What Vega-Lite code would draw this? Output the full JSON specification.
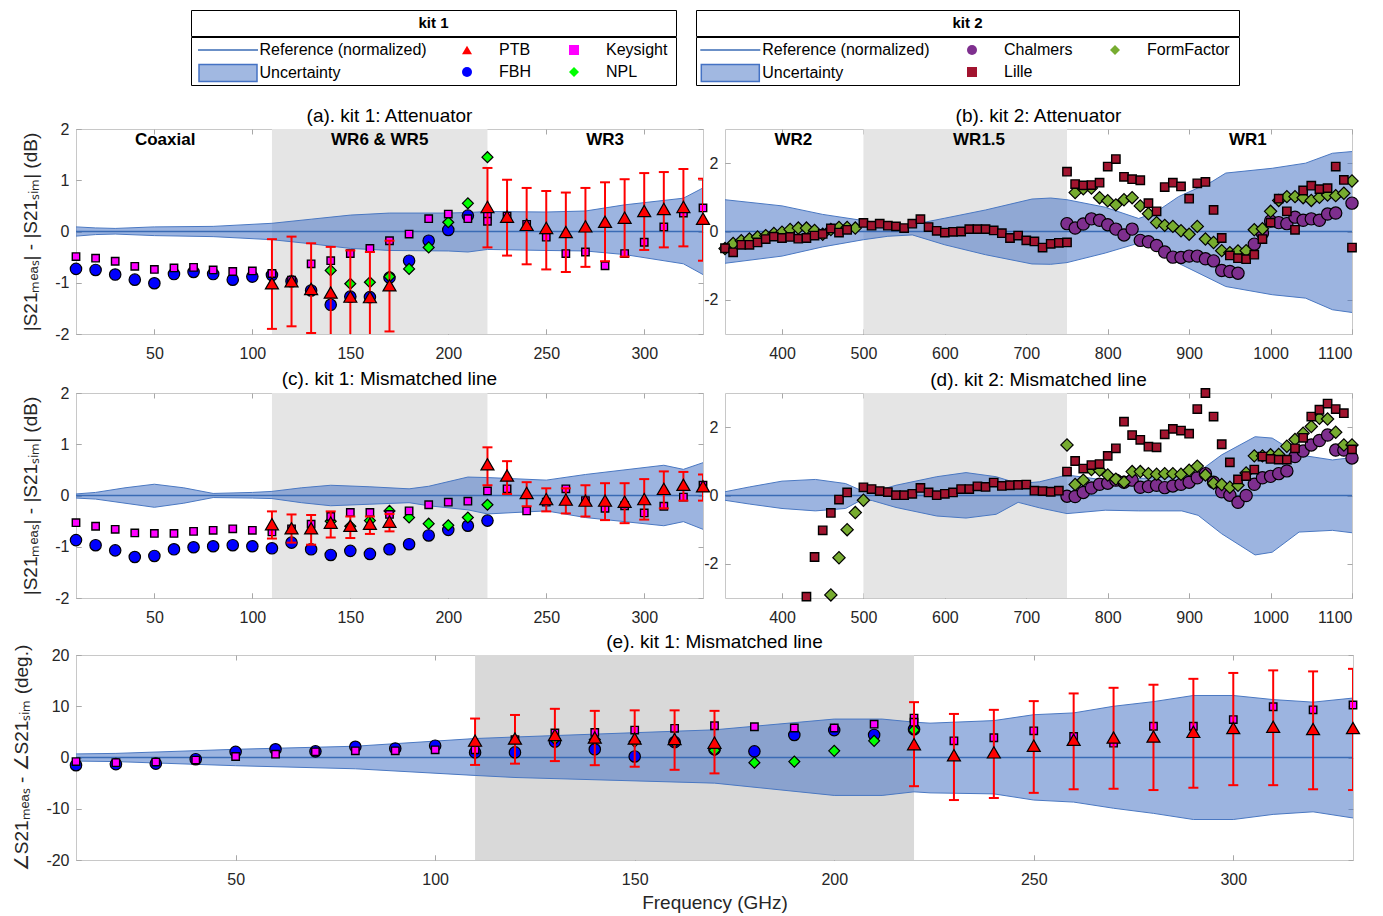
{
"$schema": "https://vega.github.io/schema/vega-lite/v6.json",
"background": "white",
"padding": {"left": 12, "top": 9, "right": 5, "bottom": 5},
"config": {
 "font": "Liberation Sans",
 "view": {"stroke": "#c8c8c8", "strokeWidth": 1},
 "axis": {"domain": false, "grid": true, "gridColor": "#a8a8a8", "gridWidth": 1, "tickSize": -5, "tickColor": "#a8a8a8", "tickWidth": 1, "labelFontSize": 16, "labelColor": "#262626", "titleFontSize": 19, "titleFontWeight": "normal", "titleColor": "#262626", "labelFont": "Liberation Sans", "titleFont": "Liberation Sans"},
 "axisX": {"labelPadding": 16, "titlePadding": 6, "gridDash": [5, 195, 5, 10]},
 "axisY": {"labelPadding": 12, "titlePadding": 14, "gridDash": [5, 617, 5, 10]},
 "title": {"fontSize": 19, "fontWeight": "normal", "font": "Liberation Sans", "color": "#000000", "offset": 6},
 "legend": {"labelFont": "Liberation Sans", "labelLimit": 400}
},
"datasets": {
 "ba": [{"f":10,"lo":-0.09,"hi":0.09},{"f":20,"lo":-0.06,"hi":0.07},{"f":30,"lo":-0.05,"hi":0.06},{"f":50,"lo":-0.08,"hi":0.09},{"f":80,"lo":-0.10,"hi":0.10},{"f":110,"lo":-0.16,"hi":0.16},{"f":130,"lo":-0.24,"hi":0.24},{"f":150,"lo":-0.33,"hi":0.32},{"f":170,"lo":-0.37,"hi":0.36},{"f":200,"lo":-0.38,"hi":0.36},{"f":210,"lo":-0.40,"hi":0.37},{"f":220,"lo":-0.35,"hi":0.39},{"f":250,"lo":-0.37,"hi":0.38},{"f":270,"lo":-0.38,"hi":0.40},{"f":290,"lo":-0.45,"hi":0.52},{"f":320,"lo":-0.63,"hi":0.65},{"f":330,"lo":-0.84,"hi":0.85}],
 "bc": [{"f":10,"lo":-0.05,"hi":0.03},{"f":20,"lo":-0.07,"hi":0.06},{"f":35,"lo":-0.15,"hi":0.15},{"f":50,"lo":-0.23,"hi":0.22},{"f":65,"lo":-0.15,"hi":0.15},{"f":80,"lo":-0.04,"hi":0.04},{"f":100,"lo":-0.05,"hi":0.06},{"f":110,"lo":-0.06,"hi":0.08},{"f":125,"lo":-0.14,"hi":0.15},{"f":140,"lo":-0.20,"hi":0.20},{"f":160,"lo":-0.17,"hi":0.17},{"f":180,"lo":-0.14,"hi":0.13},{"f":190,"lo":-0.20,"hi":0.18},{"f":210,"lo":-0.28,"hi":0.36},{"f":220,"lo":-0.36,"hi":0.35},{"f":250,"lo":-0.30,"hi":0.30},{"f":270,"lo":-0.43,"hi":0.41},{"f":310,"lo":-0.59,"hi":0.59},{"f":320,"lo":-0.51,"hi":0.51},{"f":330,"lo":-0.66,"hi":0.64}],
 "bb": [{"f":330,"lo":-0.93,"hi":0.93},{"f":400,"lo":-0.72,"hi":0.75},{"f":450,"lo":-0.45,"hi":0.50},{"f":500,"lo":-0.24,"hi":0.32},{"f":530,"lo":-0.14,"hi":0.22},{"f":560,"lo":-0.10,"hi":0.20},{"f":600,"lo":-0.39,"hi":0.39},{"f":650,"lo":-0.68,"hi":0.63},{"f":707,"lo":-0.95,"hi":0.95},{"f":730,"lo":-0.96,"hi":0.98},{"f":750,"lo":-0.91,"hi":0.93},{"f":797,"lo":-0.63,"hi":0.71},{"f":838,"lo":-0.34,"hi":0.38},{"f":858,"lo":-0.48,"hi":0.55},{"f":887,"lo":-0.93,"hi":1.02},{"f":928,"lo":-1.41,"hi":1.46},{"f":945,"lo":-1.61,"hi":1.71},{"f":1002,"lo":-1.85,"hi":1.85},{"f":1043,"lo":-1.95,"hi":2.00},{"f":1076,"lo":-2.29,"hi":2.29},{"f":1100,"lo":-2.37,"hi":2.34}],
 "bd": [{"f":330,"lo":-0.14,"hi":0.11},{"f":360,"lo":-0.25,"hi":0.25},{"f":400,"lo":-0.38,"hi":0.42},{"f":441,"lo":-0.45,"hi":0.47},{"f":478,"lo":-0.38,"hi":0.35},{"f":500,"lo":-0.10,"hi":0.12},{"f":511,"lo":-0.15,"hi":0.10},{"f":540,"lo":-0.35,"hi":0.30},{"f":590,"lo":-0.60,"hi":0.55},{"f":626,"lo":-0.66,"hi":0.67},{"f":663,"lo":-0.55,"hi":0.55},{"f":690,"lo":-0.20,"hi":0.35},{"f":716,"lo":-0.36,"hi":0.40},{"f":750,"lo":-0.53,"hi":0.60},{"f":797,"lo":-0.43,"hi":0.45},{"f":838,"lo":-0.45,"hi":0.50},{"f":891,"lo":-0.45,"hi":0.55},{"f":911,"lo":-0.58,"hi":0.68},{"f":940,"lo":-1.12,"hi":1.19},{"f":981,"lo":-1.74,"hi":1.72},{"f":1002,"lo":-1.66,"hi":1.68},{"f":1035,"lo":-1.07,"hi":1.19},{"f":1076,"lo":-1.02,"hi":1.04},{"f":1100,"lo":-1.09,"hi":1.11}],
 "be": [{"f":10,"lo":-0.7,"hi":0.7},{"f":20,"lo":-0.8,"hi":0.8},{"f":50,"lo":-1.6,"hi":1.6},{"f":80,"lo":-2.2,"hi":2.2},{"f":110,"lo":-3.5,"hi":3.7},{"f":120,"lo":-3.9,"hi":4.0},{"f":170,"lo":-5.0,"hi":5.4},{"f":200,"lo":-7.4,"hi":7.5},{"f":212,"lo":-7.4,"hi":7.5},{"f":220,"lo":-6.7,"hi":6.9},{"f":224,"lo":-6.9,"hi":6.7},{"f":240,"lo":-7.1,"hi":7.2},{"f":250,"lo":-8.3,"hi":8.35},{"f":260,"lo":-8.7,"hi":8.7},{"f":270,"lo":-9.9,"hi":10.0},{"f":280,"lo":-10.9,"hi":10.9},{"f":290,"lo":-12.1,"hi":12.1},{"f":300,"lo":-12.1,"hi":12.1},{"f":310,"lo":-11.1,"hi":11.3},{"f":320,"lo":-10.6,"hi":10.8},{"f":330,"lo":-11.8,"hi":11.6}],
 "pa": [
  {"f":10,"s":"FBH","v":-0.73},{"f":20,"s":"FBH","v":-0.75},{"f":30,"s":"FBH","v":-0.84},{"f":40,"s":"FBH","v":-0.94},{"f":50,"s":"FBH","v":-1.01},{"f":60,"s":"FBH","v":-0.83},{"f":70,"s":"FBH","v":-0.79},{"f":80,"s":"FBH","v":-0.83},{"f":90,"s":"FBH","v":-0.94},{"f":100,"s":"FBH","v":-0.88},{"f":110,"s":"FBH","v":-0.85},{"f":120,"s":"FBH","v":-0.97},{"f":130,"s":"FBH","v":-1.15},{"f":140,"s":"FBH","v":-1.43},{"f":150,"s":"FBH","v":-1.27},{"f":160,"s":"FBH","v":-1.28},{"f":170,"s":"FBH","v":-0.90},{"f":180,"s":"FBH","v":-0.57},{"f":190,"s":"FBH","v":-0.18},{"f":200,"s":"FBH","v":0.03},{"f":210,"s":"FBH","v":0.31},
  {"f":140,"s":"NPL","v":-0.76},{"f":150,"s":"NPL","v":-1.02},{"f":160,"s":"NPL","v":-0.99},{"f":170,"s":"NPL","v":-0.88},{"f":180,"s":"NPL","v":-0.73},{"f":190,"s":"NPL","v":-0.31},{"f":200,"s":"NPL","v":0.18},{"f":210,"s":"NPL","v":0.55},{"f":220,"s":"NPL","v":1.45},
  {"f":10,"s":"Keysight","v":-0.49},{"f":20,"s":"Keysight","v":-0.52},{"f":30,"s":"Keysight","v":-0.58},{"f":40,"s":"Keysight","v":-0.68},{"f":50,"s":"Keysight","v":-0.74},{"f":60,"s":"Keysight","v":-0.71},{"f":70,"s":"Keysight","v":-0.70},{"f":80,"s":"Keysight","v":-0.75},{"f":90,"s":"Keysight","v":-0.78},{"f":100,"s":"Keysight","v":-0.77},{"f":110,"s":"Keysight","v":-0.82},{"f":120,"s":"Keysight","v":-0.95},{"f":130,"s":"Keysight","v":-0.63},{"f":140,"s":"Keysight","v":-0.57},{"f":150,"s":"Keysight","v":-0.43},{"f":160,"s":"Keysight","v":-0.33},{"f":170,"s":"Keysight","v":-0.18},{"f":180,"s":"Keysight","v":-0.05},{"f":190,"s":"Keysight","v":0.25},{"f":200,"s":"Keysight","v":0.34},{"f":210,"s":"Keysight","v":0.25},{"f":220,"s":"Keysight","v":0.30},{"f":220,"s":"Keysight","v":0.20},{"f":230,"s":"Keysight","v":0.30},{"f":240,"s":"Keysight","v":0.14},{"f":250,"s":"Keysight","v":-0.11},{"f":260,"s":"Keysight","v":-0.43},{"f":270,"s":"Keysight","v":-0.40},{"f":280,"s":"Keysight","v":-0.67},{"f":290,"s":"Keysight","v":-0.43},{"f":300,"s":"Keysight","v":-0.21},{"f":310,"s":"Keysight","v":0.09},{"f":320,"s":"Keysight","v":0.36},{"f":330,"s":"Keysight","v":0.46},
  {"f":110,"s":"PTB","v":-1.01,"lo":-1.90,"hi":-0.15},{"f":120,"s":"PTB","v":-0.97,"lo":-1.85,"hi":-0.10},{"f":130,"s":"PTB","v":-1.12,"lo":-1.98,"hi":-0.23},{"f":140,"s":"PTB","v":-1.19,"lo":-2.08,"hi":-0.30},{"f":150,"s":"PTB","v":-1.27,"lo":-2.2,"hi":-0.37},{"f":160,"s":"PTB","v":-1.28,"lo":-2.2,"hi":-0.40},{"f":170,"s":"PTB","v":-1.05,"lo":-1.95,"hi":-0.18},{"f":220,"s":"PTB","v":0.48,"lo":-0.31,"hi":1.24},{"f":230,"s":"PTB","v":0.29,"lo":-0.47,"hi":1.01},{"f":240,"s":"PTB","v":0.13,"lo":-0.64,"hi":0.85},{"f":250,"s":"PTB","v":0.07,"lo":-0.74,"hi":0.79},{"f":260,"s":"PTB","v":-0.01,"lo":-0.79,"hi":0.76},{"f":270,"s":"PTB","v":0.10,"lo":-0.69,"hi":0.85},{"f":280,"s":"PTB","v":0.19,"lo":-0.58,"hi":0.96},{"f":290,"s":"PTB","v":0.27,"lo":-0.49,"hi":1.02},{"f":300,"s":"PTB","v":0.40,"lo":-0.36,"hi":1.14},{"f":310,"s":"PTB","v":0.44,"lo":-0.31,"hi":1.16},{"f":320,"s":"PTB","v":0.48,"lo":-0.29,"hi":1.22},{"f":330,"s":"PTB","v":0.25,"lo":-0.57,"hi":1.03}
 ],
 "pc": [
  {"f":10,"s":"FBH","v":-0.87},{"f":20,"s":"FBH","v":-0.97},{"f":30,"s":"FBH","v":-1.07},{"f":40,"s":"FBH","v":-1.20},{"f":50,"s":"FBH","v":-1.18},{"f":60,"s":"FBH","v":-1.05},{"f":70,"s":"FBH","v":-1.01},{"f":80,"s":"FBH","v":-0.99},{"f":90,"s":"FBH","v":-0.97},{"f":100,"s":"FBH","v":-0.99},{"f":110,"s":"FBH","v":-1.03},{"f":120,"s":"FBH","v":-0.92},{"f":130,"s":"FBH","v":-1.05},{"f":140,"s":"FBH","v":-1.16},{"f":150,"s":"FBH","v":-1.08},{"f":160,"s":"FBH","v":-1.14},{"f":170,"s":"FBH","v":-1.05},{"f":180,"s":"FBH","v":-0.95},{"f":190,"s":"FBH","v":-0.78},{"f":200,"s":"FBH","v":-0.67},{"f":210,"s":"FBH","v":-0.59},{"f":220,"s":"FBH","v":-0.49},
  {"f":140,"s":"NPL","v":-0.50},{"f":150,"s":"NPL","v":-0.60},{"f":160,"s":"NPL","v":-0.49},{"f":170,"s":"NPL","v":-0.30},{"f":180,"s":"NPL","v":-0.43},{"f":190,"s":"NPL","v":-0.55},{"f":200,"s":"NPL","v":-0.58},{"f":210,"s":"NPL","v":-0.43},{"f":220,"s":"NPL","v":-0.18},
  {"f":10,"s":"Keysight","v":-0.53},{"f":20,"s":"Keysight","v":-0.60},{"f":30,"s":"Keysight","v":-0.66},{"f":40,"s":"Keysight","v":-0.73},{"f":50,"s":"Keysight","v":-0.74},{"f":60,"s":"Keysight","v":-0.74},{"f":70,"s":"Keysight","v":-0.70},{"f":80,"s":"Keysight","v":-0.68},{"f":90,"s":"Keysight","v":-0.65},{"f":100,"s":"Keysight","v":-0.68},{"f":110,"s":"Keysight","v":-0.71},{"f":120,"s":"Keysight","v":-0.65},{"f":130,"s":"Keysight","v":-0.56},{"f":140,"s":"Keysight","v":-0.41},{"f":150,"s":"Keysight","v":-0.33},{"f":160,"s":"Keysight","v":-0.33},{"f":170,"s":"Keysight","v":-0.37},{"f":180,"s":"Keysight","v":-0.30},{"f":190,"s":"Keysight","v":-0.18},{"f":200,"s":"Keysight","v":-0.13},{"f":210,"s":"Keysight","v":-0.11},{"f":220,"s":"Keysight","v":0.09},{"f":230,"s":"Keysight","v":0.13},{"f":240,"s":"Keysight","v":-0.30},{"f":250,"s":"Keysight","v":-0.13},{"f":260,"s":"Keysight","v":0.13},{"f":270,"s":"Keysight","v":-0.10},{"f":280,"s":"Keysight","v":-0.25},{"f":290,"s":"Keysight","v":-0.20},{"f":300,"s":"Keysight","v":-0.34},{"f":310,"s":"Keysight","v":-0.21},{"f":320,"s":"Keysight","v":-0.03},{"f":330,"s":"Keysight","v":0.20},
  {"f":110,"s":"PTB","v":-0.56,"lo":-0.84,"hi":-0.31},{"f":120,"s":"PTB","v":-0.64,"lo":-0.92,"hi":-0.37},{"f":130,"s":"PTB","v":-0.64,"lo":-0.96,"hi":-0.38},{"f":140,"s":"PTB","v":-0.53,"lo":-0.82,"hi":-0.31},{"f":150,"s":"PTB","v":-0.59,"lo":-0.83,"hi":-0.41},{"f":160,"s":"PTB","v":-0.55,"lo":-0.75,"hi":-0.41},{"f":170,"s":"PTB","v":-0.51,"lo":-0.70,"hi":-0.36},{"f":220,"s":"PTB","v":0.61,"lo":0.20,"hi":0.94},{"f":230,"s":"PTB","v":0.39,"lo":0.03,"hi":0.67},{"f":240,"s":"PTB","v":0.05,"lo":-0.21,"hi":0.26},{"f":250,"s":"PTB","v":-0.07,"lo":-0.31,"hi":0.14},{"f":260,"s":"PTB","v":-0.08,"lo":-0.35,"hi":0.14},{"f":270,"s":"PTB","v":-0.10,"lo":-0.41,"hi":0.20},{"f":280,"s":"PTB","v":-0.10,"lo":-0.48,"hi":0.24},{"f":290,"s":"PTB","v":-0.12,"lo":-0.54,"hi":0.24},{"f":300,"s":"PTB","v":-0.07,"lo":-0.47,"hi":0.32},{"f":310,"s":"PTB","v":0.13,"lo":-0.25,"hi":0.47},{"f":320,"s":"PTB","v":0.21,"lo":-0.10,"hi":0.46},{"f":330,"s":"PTB","v":0.18,"lo":-0.10,"hi":0.41}
 ],
 "pe": [
  {"f":10,"s":"FBH","v":-1.5},{"f":20,"s":"FBH","v":-1.3},{"f":30,"s":"FBH","v":-1.2},{"f":40,"s":"FBH","v":-0.33},{"f":50,"s":"FBH","v":1.1},{"f":60,"s":"FBH","v":1.6},{"f":70,"s":"FBH","v":1.2},{"f":80,"s":"FBH","v":2.1},{"f":90,"s":"FBH","v":1.76},{"f":100,"s":"FBH","v":2.3},{"f":110,"s":"FBH","v":1.0},{"f":120,"s":"FBH","v":1.0},{"f":130,"s":"FBH","v":3.1},{"f":140,"s":"FBH","v":1.6},{"f":150,"s":"FBH","v":0.2},{"f":160,"s":"FBH","v":3.0},{"f":170,"s":"FBH","v":1.6},{"f":180,"s":"FBH","v":1.2},{"f":190,"s":"FBH","v":4.4},{"f":200,"s":"FBH","v":5.35},{"f":210,"s":"FBH","v":4.4},{"f":220,"s":"FBH","v":5.5},
  {"f":130,"s":"NPL","v":3.6},{"f":140,"s":"NPL","v":3.5},{"f":150,"s":"NPL","v":3.1},{"f":160,"s":"NPL","v":3.0},{"f":170,"s":"NPL","v":1.4},{"f":180,"s":"NPL","v":-1.0},{"f":190,"s":"NPL","v":-0.8},{"f":200,"s":"NPL","v":1.3},{"f":210,"s":"NPL","v":3.25},{"f":220,"s":"NPL","v":5.35},
  {"f":10,"s":"Keysight","v":-0.8},{"f":20,"s":"Keysight","v":-1.0},{"f":30,"s":"Keysight","v":-0.9},{"f":40,"s":"Keysight","v":-0.5},{"f":50,"s":"Keysight","v":0.2},{"f":60,"s":"Keysight","v":0.65},{"f":70,"s":"Keysight","v":1.1},{"f":80,"s":"Keysight","v":1.3},{"f":90,"s":"Keysight","v":1.3},{"f":100,"s":"Keysight","v":1.5},{"f":110,"s":"Keysight","v":1.5},{"f":120,"s":"Keysight","v":3.5},{"f":130,"s":"Keysight","v":4.8},{"f":140,"s":"Keysight","v":4.9},{"f":150,"s":"Keysight","v":5.35},{"f":160,"s":"Keysight","v":5.7},{"f":170,"s":"Keysight","v":6.2},{"f":180,"s":"Keysight","v":6.0},{"f":190,"s":"Keysight","v":5.75},{"f":200,"s":"Keysight","v":5.75},{"f":210,"s":"Keysight","v":6.5},{"f":220,"s":"Keysight","v":7.7},{"f":220,"s":"Keysight","v":6.9},{"f":230,"s":"Keysight","v":3.25},{"f":240,"s":"Keysight","v":3.85},{"f":250,"s":"Keysight","v":5.2},{"f":260,"s":"Keysight","v":4.1},{"f":270,"s":"Keysight","v":2.8},{"f":280,"s":"Keysight","v":6.1},{"f":290,"s":"Keysight","v":6.1},{"f":300,"s":"Keysight","v":7.4},{"f":310,"s":"Keysight","v":9.9},{"f":320,"s":"Keysight","v":9.3},{"f":330,"s":"Keysight","v":10.25},
  {"f":110,"s":"PTB","v":3.3,"lo":-1.45,"hi":7.6},{"f":120,"s":"PTB","v":3.7,"lo":-1.2,"hi":8.3},{"f":130,"s":"PTB","v":4.4,"lo":-0.7,"hi":9.5},{"f":140,"s":"PTB","v":3.9,"lo":-1.5,"hi":9.1},{"f":150,"s":"PTB","v":3.7,"lo":-1.8,"hi":9.2},{"f":160,"s":"PTB","v":3.6,"lo":-2.4,"hi":9.2},{"f":170,"s":"PTB","v":2.9,"lo":-3.1,"hi":9.1},{"f":220,"s":"PTB","v":2.6,"lo":-5.6,"hi":10.8},{"f":230,"s":"PTB","v":0.45,"lo":-8.3,"hi":8.5},{"f":240,"s":"PTB","v":1.0,"lo":-7.9,"hi":9.3},{"f":250,"s":"PTB","v":2.3,"lo":-6.9,"hi":11.0},{"f":260,"s":"PTB","v":3.45,"lo":-6.2,"hi":12.5},{"f":270,"s":"PTB","v":3.9,"lo":-6.1,"hi":13.6},{"f":280,"s":"PTB","v":4.1,"lo":-6.35,"hi":14.2},{"f":290,"s":"PTB","v":5.0,"lo":-5.9,"hi":15.35},{"f":300,"s":"PTB","v":5.75,"lo":-5.4,"hi":16.5},{"f":310,"s":"PTB","v":6.0,"lo":-5.4,"hi":17.0},{"f":320,"s":"PTB","v":5.55,"lo":-6.2,"hi":16.8},{"f":330,"s":"PTB","v":5.75,"lo":-6.35,"hi":17.3}
 ],
 "pb": [
  {"f":750,"s":"Chalmers","v":0.23},{"f":760,"s":"Chalmers","v":0.10},{"f":770,"s":"Chalmers","v":0.22},{"f":780,"s":"Chalmers","v":0.37},{"f":790,"s":"Chalmers","v":0.33},{"f":800,"s":"Chalmers","v":0.20},{"f":810,"s":"Chalmers","v":0.07},{"f":820,"s":"Chalmers","v":-0.10},{"f":830,"s":"Chalmers","v":0.07},{"f":840,"s":"Chalmers","v":-0.26},{"f":850,"s":"Chalmers","v":-0.30},{"f":860,"s":"Chalmers","v":-0.41},{"f":870,"s":"Chalmers","v":-0.60},{"f":880,"s":"Chalmers","v":-0.75},{"f":890,"s":"Chalmers","v":-0.76},{"f":900,"s":"Chalmers","v":-0.72},{"f":910,"s":"Chalmers","v":-0.72},{"f":920,"s":"Chalmers","v":-0.80},{"f":930,"s":"Chalmers","v":-0.86},{"f":940,"s":"Chalmers","v":-1.14},{"f":950,"s":"Chalmers","v":-1.17},{"f":960,"s":"Chalmers","v":-1.22},{"f":980,"s":"Chalmers","v":-0.37},{"f":990,"s":"Chalmers","v":-0.05},{"f":1000,"s":"Chalmers","v":0.31},{"f":1010,"s":"Chalmers","v":0.26},{"f":1020,"s":"Chalmers","v":0.23},{"f":1030,"s":"Chalmers","v":0.42},{"f":1040,"s":"Chalmers","v":0.33},{"f":1050,"s":"Chalmers","v":0.37},{"f":1060,"s":"Chalmers","v":0.33},{"f":1070,"s":"Chalmers","v":0.51},{"f":1080,"s":"Chalmers","v":0.54},{"f":1100,"s":"Chalmers","v":0.83},
  {"f":330,"s":"FormFactor","v":-0.50},{"f":340,"s":"FormFactor","v":-0.35},{"f":350,"s":"FormFactor","v":-0.27},{"f":360,"s":"FormFactor","v":-0.22},{"f":370,"s":"FormFactor","v":-0.16},{"f":380,"s":"FormFactor","v":-0.12},{"f":390,"s":"FormFactor","v":-0.06},{"f":400,"s":"FormFactor","v":-0.02},{"f":410,"s":"FormFactor","v":0.06},{"f":420,"s":"FormFactor","v":0.10},{"f":430,"s":"FormFactor","v":0.10},{"f":440,"s":"FormFactor","v":0.03},{"f":450,"s":"FormFactor","v":-0.08},{"f":460,"s":"FormFactor","v":0.06},{"f":470,"s":"FormFactor","v":0.12},{"f":480,"s":"FormFactor","v":0.12},{"f":490,"s":"FormFactor","v":0.10},
  {"f":760,"s":"FormFactor","v":1.14},{"f":770,"s":"FormFactor","v":1.25},{"f":780,"s":"FormFactor","v":1.27},{"f":790,"s":"FormFactor","v":0.99},{"f":800,"s":"FormFactor","v":0.90},{"f":810,"s":"FormFactor","v":0.78},{"f":820,"s":"FormFactor","v":0.93},{"f":830,"s":"FormFactor","v":0.99},{"f":840,"s":"FormFactor","v":0.75},{"f":850,"s":"FormFactor","v":0.52},{"f":860,"s":"FormFactor","v":0.26},{"f":870,"s":"FormFactor","v":0.18},{"f":880,"s":"FormFactor","v":0.15},{"f":890,"s":"FormFactor","v":0.02},{"f":900,"s":"FormFactor","v":-0.08},{"f":910,"s":"FormFactor","v":0.15},{"f":920,"s":"FormFactor","v":-0.22},{"f":930,"s":"FormFactor","v":-0.32},{"f":940,"s":"FormFactor","v":-0.56},{"f":950,"s":"FormFactor","v":-0.62},{"f":960,"s":"FormFactor","v":-0.57},{"f":970,"s":"FormFactor","v":-0.56},{"f":980,"s":"FormFactor","v":0.05},{"f":990,"s":"FormFactor","v":0.08},{"f":1000,"s":"FormFactor","v":0.59},{"f":1010,"s":"FormFactor","v":0.91},{"f":1020,"s":"FormFactor","v":1.02},{"f":1030,"s":"FormFactor","v":1.02},{"f":1040,"s":"FormFactor","v":0.99},{"f":1050,"s":"FormFactor","v":0.91},{"f":1060,"s":"FormFactor","v":1.00},{"f":1070,"s":"FormFactor","v":1.07},{"f":1080,"s":"FormFactor","v":1.05},{"f":1090,"s":"FormFactor","v":1.12},{"f":1100,"s":"FormFactor","v":1.48},
  {"f":330,"s":"Lille","v":-0.49},{"f":340,"s":"Lille","v":-0.61},{"f":350,"s":"Lille","v":-0.39},{"f":360,"s":"Lille","v":-0.39},{"f":370,"s":"Lille","v":-0.32},{"f":380,"s":"Lille","v":-0.22},{"f":390,"s":"Lille","v":-0.15},{"f":400,"s":"Lille","v":-0.19},{"f":410,"s":"Lille","v":-0.16},{"f":420,"s":"Lille","v":-0.21},{"f":430,"s":"Lille","v":-0.19},{"f":440,"s":"Lille","v":-0.12},{"f":450,"s":"Lille","v":-0.07},{"f":460,"s":"Lille","v":0.09},{"f":470,"s":"Lille","v":-0.03},{"f":480,"s":"Lille","v":0.05},{"f":500,"s":"Lille","v":0.25},{"f":510,"s":"Lille","v":0.17},{"f":520,"s":"Lille","v":0.23},{"f":530,"s":"Lille","v":0.17},{"f":540,"s":"Lille","v":0.15},{"f":550,"s":"Lille","v":0.10},{"f":560,"s":"Lille","v":0.23},{"f":570,"s":"Lille","v":0.36},{"f":580,"s":"Lille","v":0.13},{"f":590,"s":"Lille","v":0.02},{"f":600,"s":"Lille","v":-0.03},{"f":610,"s":"Lille","v":-0.01},{"f":620,"s":"Lille","v":0.0},{"f":630,"s":"Lille","v":0.07},{"f":640,"s":"Lille","v":0.07},{"f":650,"s":"Lille","v":0.07},{"f":660,"s":"Lille","v":0.03},{"f":670,"s":"Lille","v":-0.05},{"f":680,"s":"Lille","v":-0.19},{"f":690,"s":"Lille","v":-0.12},{"f":700,"s":"Lille","v":-0.26},{"f":710,"s":"Lille","v":-0.29},{"f":720,"s":"Lille","v":-0.47},{"f":730,"s":"Lille","v":-0.36},{"f":740,"s":"Lille","v":-0.33},{"f":750,"s":"Lille","v":-0.32},
  {"f":750,"s":"Lille","v":1.75},{"f":760,"s":"Lille","v":1.39},{"f":770,"s":"Lille","v":1.35},{"f":780,"s":"Lille","v":1.36},{"f":790,"s":"Lille","v":1.43},{"f":800,"s":"Lille","v":1.90},{"f":810,"s":"Lille","v":2.12},{"f":820,"s":"Lille","v":1.60},{"f":830,"s":"Lille","v":1.53},{"f":840,"s":"Lille","v":1.50},{"f":850,"s":"Lille","v":0.83},{"f":860,"s":"Lille","v":0.59},{"f":870,"s":"Lille","v":1.30},{"f":880,"s":"Lille","v":1.43},{"f":890,"s":"Lille","v":1.32},{"f":900,"s":"Lille","v":0.96},{"f":910,"s":"Lille","v":1.41},{"f":920,"s":"Lille","v":1.45},{"f":930,"s":"Lille","v":0.63},{"f":940,"s":"Lille","v":-0.19},{"f":950,"s":"Lille","v":-0.70},{"f":960,"s":"Lille","v":-0.78},{"f":970,"s":"Lille","v":-0.81},{"f":980,"s":"Lille","v":-0.68},{"f":990,"s":"Lille","v":-0.22},{"f":1000,"s":"Lille","v":0.26},{"f":1010,"s":"Lille","v":0.96},{"f":1020,"s":"Lille","v":0.59},{"f":1030,"s":"Lille","v":0.05},{"f":1040,"s":"Lille","v":1.20},{"f":1050,"s":"Lille","v":1.34},{"f":1060,"s":"Lille","v":1.24},{"f":1070,"s":"Lille","v":1.27},{"f":1080,"s":"Lille","v":1.90},{"f":1090,"s":"Lille","v":1.51},{"f":1100,"s":"Lille","v":-0.47}
 ],
 "pd": [
  {"f":750,"s":"Chalmers","v":-0.02},{"f":760,"s":"Chalmers","v":-0.03},{"f":770,"s":"Chalmers","v":0.09},{"f":780,"s":"Chalmers","v":0.22},{"f":790,"s":"Chalmers","v":0.33},{"f":800,"s":"Chalmers","v":0.36},{"f":810,"s":"Chalmers","v":0.45},{"f":820,"s":"Chalmers","v":0.39},{"f":830,"s":"Chalmers","v":0.45},{"f":840,"s":"Chalmers","v":0.24},{"f":850,"s":"Chalmers","v":0.26},{"f":860,"s":"Chalmers","v":0.30},{"f":870,"s":"Chalmers","v":0.23},{"f":880,"s":"Chalmers","v":0.28},{"f":890,"s":"Chalmers","v":0.33},{"f":900,"s":"Chalmers","v":0.39},{"f":910,"s":"Chalmers","v":0.52},{"f":920,"s":"Chalmers","v":0.64},{"f":930,"s":"Chalmers","v":0.39},{"f":940,"s":"Chalmers","v":0.11},{"f":950,"s":"Chalmers","v":0.01},{"f":960,"s":"Chalmers","v":-0.20},{"f":970,"s":"Chalmers","v":0.0},{"f":980,"s":"Chalmers","v":0.33},{"f":990,"s":"Chalmers","v":0.52},{"f":1000,"s":"Chalmers","v":0.56},{"f":1010,"s":"Chalmers","v":0.64},{"f":1020,"s":"Chalmers","v":0.72},{"f":1030,"s":"Chalmers","v":1.14},{"f":1040,"s":"Chalmers","v":1.30},{"f":1050,"s":"Chalmers","v":1.48},{"f":1060,"s":"Chalmers","v":1.61},{"f":1070,"s":"Chalmers","v":1.77},{"f":1080,"s":"Chalmers","v":1.33},{"f":1090,"s":"Chalmers","v":1.33},{"f":1100,"s":"Chalmers","v":1.10},
  {"f":460,"s":"FormFactor","v":-2.91},{"f":470,"s":"FormFactor","v":-1.82},{"f":480,"s":"FormFactor","v":-1.0},{"f":490,"s":"FormFactor","v":-0.5},{"f":500,"s":"FormFactor","v":-0.14},
  {"f":750,"s":"FormFactor","v":1.48},{"f":760,"s":"FormFactor","v":0.32},{"f":770,"s":"FormFactor","v":0.45},{"f":780,"s":"FormFactor","v":0.76},{"f":790,"s":"FormFactor","v":0.74},{"f":800,"s":"FormFactor","v":0.60},{"f":810,"s":"FormFactor","v":0.48},{"f":820,"s":"FormFactor","v":0.39},{"f":830,"s":"FormFactor","v":0.70},{"f":840,"s":"FormFactor","v":0.70},{"f":850,"s":"FormFactor","v":0.64},{"f":860,"s":"FormFactor","v":0.62},{"f":870,"s":"FormFactor","v":0.64},{"f":880,"s":"FormFactor","v":0.64},{"f":890,"s":"FormFactor","v":0.62},{"f":900,"s":"FormFactor","v":0.74},{"f":910,"s":"FormFactor","v":0.86},{"f":920,"s":"FormFactor","v":0.60},{"f":930,"s":"FormFactor","v":0.36},{"f":940,"s":"FormFactor","v":0.32},{"f":950,"s":"FormFactor","v":0.24},{"f":960,"s":"FormFactor","v":0.30},{"f":970,"s":"FormFactor","v":0.66},{"f":980,"s":"FormFactor","v":1.16},{"f":990,"s":"FormFactor","v":1.16},{"f":1000,"s":"FormFactor","v":1.19},{"f":1010,"s":"FormFactor","v":1.20},{"f":1020,"s":"FormFactor","v":1.44},{"f":1030,"s":"FormFactor","v":1.64},{"f":1040,"s":"FormFactor","v":1.82},{"f":1050,"s":"FormFactor","v":2.02},{"f":1060,"s":"FormFactor","v":2.26},{"f":1070,"s":"FormFactor","v":2.24},{"f":1080,"s":"FormFactor","v":1.85},{"f":1090,"s":"FormFactor","v":1.48},{"f":1100,"s":"FormFactor","v":1.48},
  {"f":430,"s":"Lille","v":-2.96},{"f":440,"s":"Lille","v":-1.80},{"f":450,"s":"Lille","v":-1.02},{"f":460,"s":"Lille","v":-0.51},{"f":470,"s":"Lille","v":-0.12},{"f":480,"s":"Lille","v":0.09},{"f":500,"s":"Lille","v":0.24},{"f":510,"s":"Lille","v":0.19},{"f":520,"s":"Lille","v":0.13},{"f":530,"s":"Lille","v":0.10},{"f":540,"s":"Lille","v":0.01},{"f":550,"s":"Lille","v":0.01},{"f":560,"s":"Lille","v":0.05},{"f":570,"s":"Lille","v":0.22},{"f":580,"s":"Lille","v":0.09},{"f":590,"s":"Lille","v":0.01},{"f":600,"s":"Lille","v":0.05},{"f":610,"s":"Lille","v":0.09},{"f":620,"s":"Lille","v":0.19},{"f":630,"s":"Lille","v":0.19},{"f":640,"s":"Lille","v":0.27},{"f":650,"s":"Lille","v":0.25},{"f":660,"s":"Lille","v":0.38},{"f":670,"s":"Lille","v":0.28},{"f":680,"s":"Lille","v":0.30},{"f":690,"s":"Lille","v":0.31},{"f":700,"s":"Lille","v":0.32},{"f":710,"s":"Lille","v":0.14},{"f":720,"s":"Lille","v":0.13},{"f":730,"s":"Lille","v":0.11},{"f":740,"s":"Lille","v":0.14},{"f":750,"s":"Lille","v":0.70},{"f":760,"s":"Lille","v":1.01},{"f":770,"s":"Lille","v":0.79},{"f":780,"s":"Lille","v":0.89},{"f":790,"s":"Lille","v":0.92},{"f":800,"s":"Lille","v":1.16},{"f":810,"s":"Lille","v":1.38},{"f":820,"s":"Lille","v":2.16},{"f":830,"s":"Lille","v":1.77},{"f":840,"s":"Lille","v":1.63},{"f":850,"s":"Lille","v":1.43},{"f":860,"s":"Lille","v":1.41},{"f":870,"s":"Lille","v":1.79},{"f":880,"s":"Lille","v":1.95},{"f":890,"s":"Lille","v":1.90},{"f":900,"s":"Lille","v":1.81},{"f":910,"s":"Lille","v":2.53},{"f":920,"s":"Lille","v":3.0},{"f":930,"s":"Lille","v":2.31},{"f":940,"s":"Lille","v":1.50},{"f":950,"s":"Lille","v":0.97},{"f":960,"s":"Lille","v":0.47},{"f":970,"s":"Lille","v":0.57},{"f":980,"s":"Lille","v":0.76},{"f":990,"s":"Lille","v":1.14},{"f":1000,"s":"Lille","v":1.07},{"f":1010,"s":"Lille","v":1.05},{"f":1020,"s":"Lille","v":1.05},{"f":1030,"s":"Lille","v":1.38},{"f":1040,"s":"Lille","v":1.69},{"f":1050,"s":"Lille","v":2.31},{"f":1060,"s":"Lille","v":2.51},{"f":1070,"s":"Lille","v":2.69},{"f":1080,"s":"Lille","v":2.53},{"f":1090,"s":"Lille","v":2.41},{"f":1100,"s":"Lille","v":1.35}
 ]
},
"spacing": -45,
"resolve": {"scale": {"color": "independent", "fill": "independent", "shape": "independent"}},
"vconcat": [
 {
  "spacing": -1,
  "vconcat": [
   {"bounds": "flush", "spacing": 0, "hconcat": [
     {"width": 115, "height": 26, "view": {"stroke": null}, "data": {"values": [{"t": ""}]}, "mark": "text", "encoding": {"text": {"field": "t"}}},
     {"width": 485, "height": 26, "view": {"stroke": "#000000", "strokeWidth": 1}, "data": {"values": [{"t": "kit 1"}]}, "mark": {"type": "text", "fontSize": 15, "fontWeight": "bold", "font": "Liberation Sans", "color": "#000000"}, "encoding": {"text": {"field": "t"}}},
     {"width": 20, "height": 26, "view": {"stroke": null}, "data": {"values": [{"t": ""}]}, "mark": "text", "encoding": {"text": {"field": "t"}}},
     {"width": 543, "height": 26, "view": {"stroke": "#000000", "strokeWidth": 1}, "data": {"values": [{"t": "kit 2"}]}, "mark": {"type": "text", "fontSize": 15, "fontWeight": "bold", "font": "Liberation Sans", "color": "#000000"}, "encoding": {"text": {"field": "t"}}}
   ]},
   {"bounds": "flush", "spacing": 0, "hconcat": [
     {"width": 115, "height": 48, "view": {"stroke": null}, "data": {"values": [{"t": ""}]}, "mark": "text", "encoding": {"text": {"field": "t"}}},
     {"width": 485, "height": 48, "view": {"stroke": "#000000", "strokeWidth": 1}, "data": {"values": [{"t": ""}]}, "mark": "text", "encoding": {"text": {"field": "t"}}},
     {"width": 20, "height": 48, "view": {"stroke": null}, "data": {"values": [{"t": ""}]}, "mark": "text", "encoding": {"text": {"field": "t"}}},
     {"width": 543, "height": 48, "view": {"stroke": "#000000", "strokeWidth": 1}, "data": {"values": [{"t": ""}]}, "mark": "text", "encoding": {"text": {"field": "t"}}}
   ]}
  ]
 },
 {
  "spacing": 6,
  "resolve": {"scale": {"color": "independent", "fill": "independent", "shape": "independent"}},
  "vconcat": [
   {
    "columns": 2,
    "bounds": "flush",
    "spacing": {"row": 59, "column": 22},
    "resolve": {"scale": {"color": "independent", "fill": "independent", "shape": "independent"}},
    "concat": [
     {
      "width": 627, "height": 205, "title": {"text": "(a). kit 1: Attenuator", "dy": 90},
      "encoding": {"x": {"field": "f", "type": "quantitative", "scale": {"domain": [10, 330], "nice": false, "zero": false}, "axis": {"values": [50,100,150,200,250,300], "title": null, "labelExpr": "datum.value"}}},
      "layer": [
       {"data": {"values": [{"f": 110, "f2": 220}]}, "mark": {"type": "rect", "color": "#e5e5e5"}, "encoding": {"x2": {"field": "f2"}}},
       {"data": {"name": "ba"}, "mark": {"type": "area", "opacity": 0.53}, "encoding": {"y": {"field": "lo", "type": "quantitative", "scale": {"domain": [-2, 2], "nice": false, "zero": false}, "axis": {"values": [-2,-1,0,1,2], "title": "|S21ₘₑₐₛ| - |S21ₛᵢₘ| (dB)", "labelExpr": "datum.value"}}, "y2": {"field": "hi"}, "color": {"datum": "Uncertainty", "type": "nominal", "scale": {"domain": ["Reference (normalized)", "Uncertainty"], "range": ["#3a6bb5", "#4472c4"]}, "legend": {"orient": "none", "legendX": 119, "legendY": -87, "title": null, "symbolSize": 100, "symbolOffset": 25, "labelOffset": 23.5, "labelFontSize": 16, "labelColor": "#000000", "rowPadding": 3, "padding": 0, "encode": {"symbols": {"update": {"shape": {"signal": "datum.value === 'Uncertainty' ? 'M-5.8,-1.7H5.8V1.7H-5.8Z' : 'M-6,0H6'"}, "fillOpacity": {"signal": "datum.value === 'Uncertainty' ? 0.5 : 0"}, "stroke": {"value": "#3f6fc0"}, "strokeWidth": {"value": 1.5}, "opacity": {"value": 1}}}}}}}},
       {"data": {"name": "ba"}, "mark": {"type": "line", "color": "#4a78c2", "strokeWidth": 1}, "encoding": {"y": {"field": "hi", "type": "quantitative", "scale": {"domain": [-2, 2], "nice": false, "zero": false}, "axis": {"values": [-2,-1,0,1,2], "title": "|S21ₘₑₐₛ| - |S21ₛᵢₘ| (dB)", "labelExpr": "datum.value"}}}},
       {"data": {"name": "ba"}, "mark": {"type": "line", "color": "#4a78c2", "strokeWidth": 1}, "encoding": {"y": {"field": "lo", "type": "quantitative", "scale": {"domain": [-2, 2], "nice": false, "zero": false}, "axis": {"values": [-2,-1,0,1,2], "title": "|S21ₘₑₐₛ| - |S21ₛᵢₘ| (dB)", "labelExpr": "datum.value"}}}},
       {"data": {"values": [{"r": 0}]}, "mark": {"type": "rule", "strokeWidth": 1.5}, "encoding": {"x": null, "y": {"field": "r", "type": "quantitative", "scale": {"domain": [-2, 2], "nice": false, "zero": false}, "axis": {"values": [-2,-1,0,1,2], "title": "|S21ₘₑₐₛ| - |S21ₛᵢₘ| (dB)", "labelExpr": "datum.value"}}, "color": {"datum": "Reference (normalized)", "type": "nominal", "scale": {"domain": ["Reference (normalized)", "Uncertainty"], "range": ["#3a6bb5", "#4472c4"]}, "legend": {"orient": "none", "legendX": 119, "legendY": -87, "title": null, "symbolSize": 100, "symbolOffset": 25, "labelOffset": 23.5, "labelFontSize": 16, "labelColor": "#000000", "rowPadding": 3, "padding": 0, "encode": {"symbols": {"update": {"shape": {"signal": "datum.value === 'Uncertainty' ? 'M-5.8,-1.7H5.8V1.7H-5.8Z' : 'M-6,0H6'"}, "fillOpacity": {"signal": "datum.value === 'Uncertainty' ? 0.5 : 0"}, "stroke": {"value": "#3f6fc0"}, "strokeWidth": {"value": 1.5}, "opacity": {"value": 1}}}}}}}},
       {"data": {"values": [{"label": "Coaxial", "f": 55.5}, {"label": "WR6 & WR5", "f": 165}, {"label": "WR3", "f": 280}]}, "mark": {"type": "text", "fontWeight": "bold", "fontSize": 17, "color": "#000000"}, "encoding": {"y": {"datum": 1.79, "type": "quantitative", "scale": {"domain": [-2, 2], "nice": false, "zero": false}, "axis": {"values": [-2,-1,0,1,2], "title": "|S21ₘₑₐₛ| - |S21ₛᵢₘ| (dB)", "labelExpr": "datum.value"}}, "text": {"field": "label"}}},
       {"data": {"name": "pa"}, "transform": [{"filter": "datum.s === 'FBH'"}], "mark": {"type": "point", "filled": true, "size": 130, "stroke": "#000000", "strokeWidth": 1.2, "opacity": 1}, "encoding": {"y": {"field": "v", "type": "quantitative", "scale": {"domain": [-2, 2], "nice": false, "zero": false}, "axis": {"values": [-2,-1,0,1,2], "title": "|S21ₘₑₐₛ| - |S21ₛᵢₘ| (dB)", "labelExpr": "datum.value"}}, "fill": {"field": "s", "type": "nominal", "scale": {"domain": ["PTB","FBH","Keysight","NPL"], "range": ["#ff0000","#0000ff","#ff00ff","#00ff00"]}, "legend": {"orient": "none", "legendX": 383, "legendY": -87, "title": null, "columns": 2, "symbolSize": 100, "symbolStrokeColor": "#000000", "symbolStrokeWidth": 1.2, "labelFontSize": 16, "labelColor": "#000000", "labelOffset": 24, "columnPadding": 35, "rowPadding": 6, "padding": 0, "encode": {"symbols": {"update": {"stroke": {"value": "#000000"}, "strokeWidth": {"value": 1.2}, "opacity": {"value": 1}}}}}}, "shape": {"field": "s", "type": "nominal", "scale": {"domain": ["PTB","FBH","Keysight","NPL"], "range": ["triangle-up","circle","square","diamond"]}, "legend": {"orient": "none", "legendX": 383, "legendY": -87, "title": null, "columns": 2, "symbolSize": 100, "symbolStrokeColor": "#000000", "symbolStrokeWidth": 1.2, "labelFontSize": 16, "labelColor": "#000000", "labelOffset": 24, "columnPadding": 35, "rowPadding": 6, "padding": 0, "encode": {"symbols": {"update": {"stroke": {"value": "#000000"}, "strokeWidth": {"value": 1.2}, "opacity": {"value": 1}}}}}}}},
       {"data": {"name": "pa"}, "transform": [{"filter": "datum.s === 'NPL'"}], "mark": {"type": "point", "filled": true, "size": 120, "stroke": "#000000", "strokeWidth": 1.2, "opacity": 1}, "encoding": {"y": {"field": "v", "type": "quantitative", "scale": {"domain": [-2, 2], "nice": false, "zero": false}, "axis": {"values": [-2,-1,0,1,2], "title": "|S21ₘₑₐₛ| - |S21ₛᵢₘ| (dB)", "labelExpr": "datum.value"}}, "fill": {"field": "s", "type": "nominal"}, "shape": {"field": "s", "type": "nominal"}}},
       {"data": {"name": "pa"}, "transform": [{"filter": "datum.s === 'Keysight'"}], "mark": {"type": "point", "filled": true, "size": 55, "stroke": "#000000", "strokeWidth": 1.4, "opacity": 1}, "encoding": {"y": {"field": "v", "type": "quantitative", "scale": {"domain": [-2, 2], "nice": false, "zero": false}, "axis": {"values": [-2,-1,0,1,2], "title": "|S21ₘₑₐₛ| - |S21ₛᵢₘ| (dB)", "labelExpr": "datum.value"}}, "fill": {"field": "s", "type": "nominal"}, "shape": {"field": "s", "type": "nominal"}}},
       {"data": {"name": "pa"}, "transform": [{"filter": "datum.s === 'PTB'"}], "mark": {"type": "rule", "color": "#ff0000", "strokeWidth": 2, "clip": true}, "encoding": {"y": {"field": "lo", "type": "quantitative", "scale": {"domain": [-2, 2], "nice": false, "zero": false}, "axis": {"values": [-2,-1,0,1,2], "title": "|S21ₘₑₐₛ| - |S21ₛᵢₘ| (dB)", "labelExpr": "datum.value"}}, "y2": {"field": "hi"}}},
       {"data": {"name": "pa"}, "transform": [{"filter": "datum.s === 'PTB'"}], "mark": {"type": "tick", "orient": "horizontal", "color": "#ff0000", "size": 10, "thickness": 2, "opacity": 1, "clip": true}, "encoding": {"y": {"field": "lo", "type": "quantitative", "scale": {"domain": [-2, 2], "nice": false, "zero": false}, "axis": {"values": [-2,-1,0,1,2], "title": "|S21ₘₑₐₛ| - |S21ₛᵢₘ| (dB)", "labelExpr": "datum.value"}}}},
       {"data": {"name": "pa"}, "transform": [{"filter": "datum.s === 'PTB'"}], "mark": {"type": "tick", "orient": "horizontal", "color": "#ff0000", "size": 10, "thickness": 2, "opacity": 1, "clip": true}, "encoding": {"y": {"field": "hi", "type": "quantitative", "scale": {"domain": [-2, 2], "nice": false, "zero": false}, "axis": {"values": [-2,-1,0,1,2], "title": "|S21ₘₑₐₛ| - |S21ₛᵢₘ| (dB)", "labelExpr": "datum.value"}}}},
       {"data": {"name": "pa"}, "transform": [{"filter": "datum.s === 'PTB'"}], "mark": {"type": "point", "filled": true, "size": 170, "stroke": "#000000", "strokeWidth": 1.2, "opacity": 1}, "encoding": {"y": {"field": "v", "type": "quantitative", "scale": {"domain": [-2, 2], "nice": false, "zero": false}, "axis": {"values": [-2,-1,0,1,2], "title": "|S21ₘₑₐₛ| - |S21ₛᵢₘ| (dB)", "labelExpr": "datum.value"}}, "fill": {"field": "s", "type": "nominal"}, "shape": {"field": "s", "type": "nominal"}}}
      ]
     },
     {
      "width": 627, "height": 205, "title": {"text": "(b). kit 2: Attenuator", "dy": 90},
      "encoding": {"x": {"field": "f", "type": "quantitative", "scale": {"domain": [330, 1100], "nice": false, "zero": false}, "axis": {"values": [400,500,600,700,800,900,1000,1100], "title": null, "labelExpr": "datum.value"}}},
      "layer": [
       {"data": {"values": [{"f": 500, "f2": 750}]}, "mark": {"type": "rect", "color": "#e5e5e5"}, "encoding": {"x2": {"field": "f2"}}},
       {"data": {"name": "bb"}, "mark": {"type": "area", "opacity": 0.53}, "encoding": {"y": {"field": "lo", "type": "quantitative", "scale": {"domain": [-3, 3], "nice": false, "zero": false}, "axis": {"values": [-2,0,2], "title": null, "labelExpr": "datum.value"}}, "y2": {"field": "hi"}, "color": {"datum": "Uncertainty", "type": "nominal", "scale": {"domain": ["Reference (normalized)", "Uncertainty"], "range": ["#3a6bb5", "#4472c4"]}, "legend": {"orient": "none", "legendX": -27.7, "legendY": -87, "title": null, "symbolSize": 100, "symbolOffset": 25, "labelOffset": 24, "labelFontSize": 16, "labelColor": "#000000", "rowPadding": 3, "padding": 0, "encode": {"symbols": {"update": {"shape": {"signal": "datum.value === 'Uncertainty' ? 'M-5.8,-1.7H5.8V1.7H-5.8Z' : 'M-6,0H6'"}, "fillOpacity": {"signal": "datum.value === 'Uncertainty' ? 0.5 : 0"}, "stroke": {"value": "#3f6fc0"}, "strokeWidth": {"value": 1.5}, "opacity": {"value": 1}}}}}}}},
       {"data": {"name": "bb"}, "mark": {"type": "line", "color": "#4a78c2", "strokeWidth": 1}, "encoding": {"y": {"field": "hi", "type": "quantitative", "scale": {"domain": [-3, 3], "nice": false, "zero": false}, "axis": {"values": [-2,0,2], "title": null, "labelExpr": "datum.value"}}}},
       {"data": {"name": "bb"}, "mark": {"type": "line", "color": "#4a78c2", "strokeWidth": 1}, "encoding": {"y": {"field": "lo", "type": "quantitative", "scale": {"domain": [-3, 3], "nice": false, "zero": false}, "axis": {"values": [-2,0,2], "title": null, "labelExpr": "datum.value"}}}},
       {"data": {"values": [{"r": 0}]}, "mark": {"type": "rule", "strokeWidth": 1.5}, "encoding": {"x": null, "y": {"field": "r", "type": "quantitative", "scale": {"domain": [-3, 3], "nice": false, "zero": false}, "axis": {"values": [-2,0,2], "title": null, "labelExpr": "datum.value"}}, "color": {"datum": "Reference (normalized)", "type": "nominal", "scale": {"domain": ["Reference (normalized)", "Uncertainty"], "range": ["#3a6bb5", "#4472c4"]}, "legend": {"orient": "none", "legendX": -27.7, "legendY": -87, "title": null, "symbolSize": 100, "symbolOffset": 25, "labelOffset": 24, "labelFontSize": 16, "labelColor": "#000000", "rowPadding": 3, "padding": 0, "encode": {"symbols": {"update": {"shape": {"signal": "datum.value === 'Uncertainty' ? 'M-5.8,-1.7H5.8V1.7H-5.8Z' : 'M-6,0H6'"}, "fillOpacity": {"signal": "datum.value === 'Uncertainty' ? 0.5 : 0"}, "stroke": {"value": "#3f6fc0"}, "strokeWidth": {"value": 1.5}, "opacity": {"value": 1}}}}}}}},
       {"data": {"values": [{"label": "WR2", "f": 414}, {"label": "WR1.5", "f": 642}, {"label": "WR1", "f": 972}]}, "mark": {"type": "text", "fontWeight": "bold", "fontSize": 17, "color": "#000000"}, "encoding": {"y": {"datum": 2.68, "type": "quantitative", "scale": {"domain": [-3, 3], "nice": false, "zero": false}, "axis": {"values": [-2,0,2], "title": null, "labelExpr": "datum.value"}}, "text": {"field": "label"}}},
       {"data": {"name": "pb"}, "transform": [{"filter": "datum.s === 'Chalmers'"}], "mark": {"type": "point", "filled": true, "size": 150, "stroke": "#000000", "strokeWidth": 1.2, "opacity": 1}, "encoding": {"y": {"field": "v", "type": "quantitative", "scale": {"domain": [-3, 3], "nice": false, "zero": false}, "axis": {"values": [-2,0,2], "title": null, "labelExpr": "datum.value"}}, "fill": {"field": "s", "type": "nominal", "scale": {"domain": ["Chalmers","Lille","FormFactor"], "range": ["#7e2f8e","#a2142f","#77ac30"]}, "legend": {"orient": "none", "legendX": 239, "legendY": -87, "title": null, "columns": 2, "symbolSize": 100, "symbolStrokeColor": "#000000", "symbolStrokeWidth": 1.2, "labelFontSize": 16, "labelColor": "#000000", "labelOffset": 24, "columnPadding": 34, "rowPadding": 6, "padding": 0, "encode": {"symbols": {"update": {"stroke": {"value": "#000000"}, "strokeWidth": {"value": 1.2}, "opacity": {"value": 1}}}}}}, "shape": {"field": "s", "type": "nominal", "scale": {"domain": ["Chalmers","Lille","FormFactor"], "range": ["circle","square","diamond"]}, "legend": {"orient": "none", "legendX": 239, "legendY": -87, "title": null, "columns": 2, "symbolSize": 100, "symbolStrokeColor": "#000000", "symbolStrokeWidth": 1.2, "labelFontSize": 16, "labelColor": "#000000", "labelOffset": 24, "columnPadding": 34, "rowPadding": 6, "padding": 0, "encode": {"symbols": {"update": {"stroke": {"value": "#000000"}, "strokeWidth": {"value": 1.2}, "opacity": {"value": 1}}}}}}}},
       {"data": {"name": "pb"}, "transform": [{"filter": "datum.s === 'FormFactor'"}], "mark": {"type": "point", "filled": true, "size": 150, "stroke": "#000000", "strokeWidth": 1.2, "opacity": 1}, "encoding": {"y": {"field": "v", "type": "quantitative", "scale": {"domain": [-3, 3], "nice": false, "zero": false}, "axis": {"values": [-2,0,2], "title": null, "labelExpr": "datum.value"}}, "fill": {"field": "s", "type": "nominal"}, "shape": {"field": "s", "type": "nominal"}}},
       {"data": {"name": "pb"}, "transform": [{"filter": "datum.s === 'Lille'"}], "mark": {"type": "point", "filled": true, "size": 70, "stroke": "#000000", "strokeWidth": 1.4, "opacity": 1}, "encoding": {"y": {"field": "v", "type": "quantitative", "scale": {"domain": [-3, 3], "nice": false, "zero": false}, "axis": {"values": [-2,0,2], "title": null, "labelExpr": "datum.value"}}, "fill": {"field": "s", "type": "nominal"}, "shape": {"field": "s", "type": "nominal"}}}
      ]
     },
     {
      "width": 627, "height": 205, "title": {"text": "(c). kit 1: Mismatched line", "dy": 10},
      "encoding": {"x": {"field": "f", "type": "quantitative", "scale": {"domain": [10, 330], "nice": false, "zero": false}, "axis": {"values": [50,100,150,200,250,300], "title": null, "labelExpr": "datum.value"}}},
      "layer": [
       {"data": {"values": [{"f": 110, "f2": 220}]}, "mark": {"type": "rect", "color": "#e5e5e5"}, "encoding": {"x2": {"field": "f2"}}},
       {"data": {"name": "bc"}, "mark": {"type": "area", "opacity": 0.53, "color": "#4472c4"}, "encoding": {"y": {"field": "lo", "type": "quantitative", "scale": {"domain": [-2, 2], "nice": false, "zero": false}, "axis": {"values": [-2,-1,0,1,2], "title": "|S21ₘₑₐₛ| - |S21ₛᵢₘ| (dB)", "labelExpr": "datum.value"}}, "y2": {"field": "hi"}}},
       {"data": {"name": "bc"}, "mark": {"type": "line", "color": "#4a78c2", "strokeWidth": 1}, "encoding": {"y": {"field": "hi", "type": "quantitative", "scale": {"domain": [-2, 2], "nice": false, "zero": false}, "axis": {"values": [-2,-1,0,1,2], "title": "|S21ₘₑₐₛ| - |S21ₛᵢₘ| (dB)", "labelExpr": "datum.value"}}}},
       {"data": {"name": "bc"}, "mark": {"type": "line", "color": "#4a78c2", "strokeWidth": 1}, "encoding": {"y": {"field": "lo", "type": "quantitative", "scale": {"domain": [-2, 2], "nice": false, "zero": false}, "axis": {"values": [-2,-1,0,1,2], "title": "|S21ₘₑₐₛ| - |S21ₛᵢₘ| (dB)", "labelExpr": "datum.value"}}}},
       {"data": {"values": [{"r": 0}]}, "mark": {"type": "rule", "strokeWidth": 1.5, "color": "#3a6bb5"}, "encoding": {"x": null, "y": {"field": "r", "type": "quantitative", "scale": {"domain": [-2, 2], "nice": false, "zero": false}, "axis": {"values": [-2,-1,0,1,2], "title": "|S21ₘₑₐₛ| - |S21ₛᵢₘ| (dB)", "labelExpr": "datum.value"}}}},
       {"data": {"name": "pc"}, "transform": [{"filter": "datum.s === 'FBH'"}], "mark": {"type": "point", "filled": true, "size": 130, "stroke": "#000000", "strokeWidth": 1.2, "opacity": 1}, "encoding": {"y": {"field": "v", "type": "quantitative", "scale": {"domain": [-2, 2], "nice": false, "zero": false}, "axis": {"values": [-2,-1,0,1,2], "title": "|S21ₘₑₐₛ| - |S21ₛᵢₘ| (dB)", "labelExpr": "datum.value"}}, "fill": {"field": "s", "type": "nominal", "scale": {"domain": ["PTB","FBH","Keysight","NPL"], "range": ["#ff0000","#0000ff","#ff00ff","#00ff00"]}, "legend": null}, "shape": {"field": "s", "type": "nominal", "scale": {"domain": ["PTB","FBH","Keysight","NPL"], "range": ["triangle-up","circle","square","diamond"]}, "legend": null}}},
       {"data": {"name": "pc"}, "transform": [{"filter": "datum.s === 'NPL'"}], "mark": {"type": "point", "filled": true, "size": 120, "stroke": "#000000", "strokeWidth": 1.2, "opacity": 1}, "encoding": {"y": {"field": "v", "type": "quantitative", "scale": {"domain": [-2, 2], "nice": false, "zero": false}, "axis": {"values": [-2,-1,0,1,2], "title": "|S21ₘₑₐₛ| - |S21ₛᵢₘ| (dB)", "labelExpr": "datum.value"}}, "fill": {"field": "s", "type": "nominal", "legend": null}, "shape": {"field": "s", "type": "nominal", "legend": null}}},
       {"data": {"name": "pc"}, "transform": [{"filter": "datum.s === 'Keysight'"}], "mark": {"type": "point", "filled": true, "size": 55, "stroke": "#000000", "strokeWidth": 1.4, "opacity": 1}, "encoding": {"y": {"field": "v", "type": "quantitative", "scale": {"domain": [-2, 2], "nice": false, "zero": false}, "axis": {"values": [-2,-1,0,1,2], "title": "|S21ₘₑₐₛ| - |S21ₛᵢₘ| (dB)", "labelExpr": "datum.value"}}, "fill": {"field": "s", "type": "nominal", "legend": null}, "shape": {"field": "s", "type": "nominal", "legend": null}}},
       {"data": {"name": "pc"}, "transform": [{"filter": "datum.s === 'PTB'"}], "mark": {"type": "rule", "color": "#ff0000", "strokeWidth": 2, "clip": true}, "encoding": {"y": {"field": "lo", "type": "quantitative", "scale": {"domain": [-2, 2], "nice": false, "zero": false}, "axis": {"values": [-2,-1,0,1,2], "title": "|S21ₘₑₐₛ| - |S21ₛᵢₘ| (dB)", "labelExpr": "datum.value"}}, "y2": {"field": "hi"}}},
       {"data": {"name": "pc"}, "transform": [{"filter": "datum.s === 'PTB'"}], "mark": {"type": "tick", "orient": "horizontal", "color": "#ff0000", "size": 10, "thickness": 2, "opacity": 1, "clip": true}, "encoding": {"y": {"field": "lo", "type": "quantitative", "scale": {"domain": [-2, 2], "nice": false, "zero": false}, "axis": {"values": [-2,-1,0,1,2], "title": "|S21ₘₑₐₛ| - |S21ₛᵢₘ| (dB)", "labelExpr": "datum.value"}}}},
       {"data": {"name": "pc"}, "transform": [{"filter": "datum.s === 'PTB'"}], "mark": {"type": "tick", "orient": "horizontal", "color": "#ff0000", "size": 10, "thickness": 2, "opacity": 1, "clip": true}, "encoding": {"y": {"field": "hi", "type": "quantitative", "scale": {"domain": [-2, 2], "nice": false, "zero": false}, "axis": {"values": [-2,-1,0,1,2], "title": "|S21ₘₑₐₛ| - |S21ₛᵢₘ| (dB)", "labelExpr": "datum.value"}}}},
       {"data": {"name": "pc"}, "transform": [{"filter": "datum.s === 'PTB'"}], "mark": {"type": "point", "filled": true, "size": 170, "stroke": "#000000", "strokeWidth": 1.2, "opacity": 1}, "encoding": {"y": {"field": "v", "type": "quantitative", "scale": {"domain": [-2, 2], "nice": false, "zero": false}, "axis": {"values": [-2,-1,0,1,2], "title": "|S21ₘₑₐₛ| - |S21ₛᵢₘ| (dB)", "labelExpr": "datum.value"}}, "fill": {"field": "s", "type": "nominal", "legend": null}, "shape": {"field": "s", "type": "nominal", "legend": null}}}
      ]
     },
     {
      "width": 627, "height": 205, "title": {"text": "(d). kit 2: Mismatched line", "dy": 10},
      "encoding": {"x": {"field": "f", "type": "quantitative", "scale": {"domain": [330, 1100], "nice": false, "zero": false}, "axis": {"values": [400,500,600,700,800,900,1000,1100], "title": null, "labelExpr": "datum.value"}}},
      "layer": [
       {"data": {"values": [{"f": 500, "f2": 750}]}, "mark": {"type": "rect", "color": "#e5e5e5"}, "encoding": {"x2": {"field": "f2"}}},
       {"data": {"name": "bd"}, "mark": {"type": "area", "opacity": 0.53, "color": "#4472c4"}, "encoding": {"y": {"field": "lo", "type": "quantitative", "scale": {"domain": [-3, 3], "nice": false, "zero": false}, "axis": {"values": [-2,0,2], "title": null, "labelExpr": "datum.value"}}, "y2": {"field": "hi"}}},
       {"data": {"name": "bd"}, "mark": {"type": "line", "color": "#4a78c2", "strokeWidth": 1}, "encoding": {"y": {"field": "hi", "type": "quantitative", "scale": {"domain": [-3, 3], "nice": false, "zero": false}, "axis": {"values": [-2,0,2], "title": null, "labelExpr": "datum.value"}}}},
       {"data": {"name": "bd"}, "mark": {"type": "line", "color": "#4a78c2", "strokeWidth": 1}, "encoding": {"y": {"field": "lo", "type": "quantitative", "scale": {"domain": [-3, 3], "nice": false, "zero": false}, "axis": {"values": [-2,0,2], "title": null, "labelExpr": "datum.value"}}}},
       {"data": {"values": [{"r": 0}]}, "mark": {"type": "rule", "strokeWidth": 1.5, "color": "#3a6bb5"}, "encoding": {"x": null, "y": {"field": "r", "type": "quantitative", "scale": {"domain": [-3, 3], "nice": false, "zero": false}, "axis": {"values": [-2,0,2], "title": null, "labelExpr": "datum.value"}}}},
       {"data": {"name": "pd"}, "transform": [{"filter": "datum.s === 'Chalmers'"}], "mark": {"type": "point", "filled": true, "size": 150, "stroke": "#000000", "strokeWidth": 1.2, "opacity": 1}, "encoding": {"y": {"field": "v", "type": "quantitative", "scale": {"domain": [-3, 3], "nice": false, "zero": false}, "axis": {"values": [-2,0,2], "title": null, "labelExpr": "datum.value"}}, "fill": {"field": "s", "type": "nominal", "scale": {"domain": ["Chalmers","Lille","FormFactor"], "range": ["#7e2f8e","#a2142f","#77ac30"]}, "legend": null}, "shape": {"field": "s", "type": "nominal", "scale": {"domain": ["Chalmers","Lille","FormFactor"], "range": ["circle","square","diamond"]}, "legend": null}}},
       {"data": {"name": "pd"}, "transform": [{"filter": "datum.s === 'FormFactor'"}], "mark": {"type": "point", "filled": true, "size": 150, "stroke": "#000000", "strokeWidth": 1.2, "opacity": 1}, "encoding": {"y": {"field": "v", "type": "quantitative", "scale": {"domain": [-3, 3], "nice": false, "zero": false}, "axis": {"values": [-2,0,2], "title": null, "labelExpr": "datum.value"}}, "fill": {"field": "s", "type": "nominal", "legend": null}, "shape": {"field": "s", "type": "nominal", "legend": null}}},
       {"data": {"name": "pd"}, "transform": [{"filter": "datum.s === 'Lille'"}], "mark": {"type": "point", "filled": true, "size": 70, "stroke": "#000000", "strokeWidth": 1.4, "opacity": 1}, "encoding": {"y": {"field": "v", "type": "quantitative", "scale": {"domain": [-3, 3], "nice": false, "zero": false}, "axis": {"values": [-2,0,2], "title": null, "labelExpr": "datum.value"}}, "fill": {"field": "s", "type": "nominal", "legend": null}, "shape": {"field": "s", "type": "nominal", "legend": null}}}
      ]
     }
    ]
   },
   {
    "width": 1277, "height": 205, "title": {"text": "(e). kit 1: Mismatched line", "dy": 14},
    "encoding": {"x": {"field": "f", "type": "quantitative", "scale": {"domain": [10, 330], "nice": false, "zero": false}, "axis": {"values": [50,100,150,200,250,300], "title": "Frequency (GHz)", "labelExpr": "datum.value"}}},
    "layer": [
     {"data": {"values": [{"f": 110, "f2": 220}]}, "mark": {"type": "rect", "color": "#d9d9d9"}, "encoding": {"x2": {"field": "f2"}}},
     {"data": {"name": "be"}, "mark": {"type": "area", "opacity": 0.53, "color": "#4472c4"}, "encoding": {"y": {"field": "lo", "type": "quantitative", "scale": {"domain": [-20, 20], "nice": false, "zero": false}, "axis": {"values": [-20,-10,0,10,20], "title": "∠S21ₘₑₐₛ - ∠S21ₛᵢₘ (deg.)", "labelExpr": "datum.value", "gridDash": [5, 1267, 5, 10]}}, "y2": {"field": "hi"}}},
     {"data": {"name": "be"}, "mark": {"type": "line", "color": "#4a78c2", "strokeWidth": 1}, "encoding": {"y": {"field": "hi", "type": "quantitative", "scale": {"domain": [-20, 20], "nice": false, "zero": false}, "axis": {"values": [-20,-10,0,10,20], "title": "∠S21ₘₑₐₛ - ∠S21ₛᵢₘ (deg.)", "labelExpr": "datum.value", "gridDash": [5, 1267, 5, 10]}}}},
     {"data": {"name": "be"}, "mark": {"type": "line", "color": "#4a78c2", "strokeWidth": 1}, "encoding": {"y": {"field": "lo", "type": "quantitative", "scale": {"domain": [-20, 20], "nice": false, "zero": false}, "axis": {"values": [-20,-10,0,10,20], "title": "∠S21ₘₑₐₛ - ∠S21ₛᵢₘ (deg.)", "labelExpr": "datum.value", "gridDash": [5, 1267, 5, 10]}}}},
     {"data": {"values": [{"r": 0}]}, "mark": {"type": "rule", "strokeWidth": 1.5, "color": "#3a6bb5"}, "encoding": {"x": null, "y": {"field": "r", "type": "quantitative", "scale": {"domain": [-20, 20], "nice": false, "zero": false}, "axis": {"values": [-20,-10,0,10,20], "title": "∠S21ₘₑₐₛ - ∠S21ₛᵢₘ (deg.)", "labelExpr": "datum.value", "gridDash": [5, 1267, 5, 10]}}}},
     {"data": {"name": "pe"}, "transform": [{"filter": "datum.s === 'FBH'"}], "mark": {"type": "point", "filled": true, "size": 130, "stroke": "#000000", "strokeWidth": 1.2, "opacity": 1}, "encoding": {"y": {"field": "v", "type": "quantitative", "scale": {"domain": [-20, 20], "nice": false, "zero": false}, "axis": {"values": [-20,-10,0,10,20], "title": "∠S21ₘₑₐₛ - ∠S21ₛᵢₘ (deg.)", "labelExpr": "datum.value", "gridDash": [5, 1267, 5, 10]}}, "fill": {"field": "s", "type": "nominal", "scale": {"domain": ["PTB","FBH","Keysight","NPL"], "range": ["#ff0000","#0000ff","#ff00ff","#00ff00"]}, "legend": null}, "shape": {"field": "s", "type": "nominal", "scale": {"domain": ["PTB","FBH","Keysight","NPL"], "range": ["triangle-up","circle","square","diamond"]}, "legend": null}}},
     {"data": {"name": "pe"}, "transform": [{"filter": "datum.s === 'NPL'"}], "mark": {"type": "point", "filled": true, "size": 120, "stroke": "#000000", "strokeWidth": 1.2, "opacity": 1}, "encoding": {"y": {"field": "v", "type": "quantitative", "scale": {"domain": [-20, 20], "nice": false, "zero": false}, "axis": {"values": [-20,-10,0,10,20], "title": "∠S21ₘₑₐₛ - ∠S21ₛᵢₘ (deg.)", "labelExpr": "datum.value", "gridDash": [5, 1267, 5, 10]}}, "fill": {"field": "s", "type": "nominal", "legend": null}, "shape": {"field": "s", "type": "nominal", "legend": null}}},
     {"data": {"name": "pe"}, "transform": [{"filter": "datum.s === 'Keysight'"}], "mark": {"type": "point", "filled": true, "size": 55, "stroke": "#000000", "strokeWidth": 1.4, "opacity": 1}, "encoding": {"y": {"field": "v", "type": "quantitative", "scale": {"domain": [-20, 20], "nice": false, "zero": false}, "axis": {"values": [-20,-10,0,10,20], "title": "∠S21ₘₑₐₛ - ∠S21ₛᵢₘ (deg.)", "labelExpr": "datum.value", "gridDash": [5, 1267, 5, 10]}}, "fill": {"field": "s", "type": "nominal", "legend": null}, "shape": {"field": "s", "type": "nominal", "legend": null}}},
     {"data": {"name": "pe"}, "transform": [{"filter": "datum.s === 'PTB'"}], "mark": {"type": "rule", "color": "#ff0000", "strokeWidth": 2, "clip": true}, "encoding": {"y": {"field": "lo", "type": "quantitative", "scale": {"domain": [-20, 20], "nice": false, "zero": false}, "axis": {"values": [-20,-10,0,10,20], "title": "∠S21ₘₑₐₛ - ∠S21ₛᵢₘ (deg.)", "labelExpr": "datum.value", "gridDash": [5, 1267, 5, 10]}}, "y2": {"field": "hi"}}},
     {"data": {"name": "pe"}, "transform": [{"filter": "datum.s === 'PTB'"}], "mark": {"type": "tick", "orient": "horizontal", "color": "#ff0000", "size": 10, "thickness": 2, "opacity": 1, "clip": true}, "encoding": {"y": {"field": "lo", "type": "quantitative", "scale": {"domain": [-20, 20], "nice": false, "zero": false}, "axis": {"values": [-20,-10,0,10,20], "title": "∠S21ₘₑₐₛ - ∠S21ₛᵢₘ (deg.)", "labelExpr": "datum.value", "gridDash": [5, 1267, 5, 10]}}}},
     {"data": {"name": "pe"}, "transform": [{"filter": "datum.s === 'PTB'"}], "mark": {"type": "tick", "orient": "horizontal", "color": "#ff0000", "size": 10, "thickness": 2, "opacity": 1, "clip": true}, "encoding": {"y": {"field": "hi", "type": "quantitative", "scale": {"domain": [-20, 20], "nice": false, "zero": false}, "axis": {"values": [-20,-10,0,10,20], "title": "∠S21ₘₑₐₛ - ∠S21ₛᵢₘ (deg.)", "labelExpr": "datum.value", "gridDash": [5, 1267, 5, 10]}}}},
     {"data": {"name": "pe"}, "transform": [{"filter": "datum.s === 'PTB'"}], "mark": {"type": "point", "filled": true, "size": 170, "stroke": "#000000", "strokeWidth": 1.2, "opacity": 1}, "encoding": {"y": {"field": "v", "type": "quantitative", "scale": {"domain": [-20, 20], "nice": false, "zero": false}, "axis": {"values": [-20,-10,0,10,20], "title": "∠S21ₘₑₐₛ - ∠S21ₛᵢₘ (deg.)", "labelExpr": "datum.value", "gridDash": [5, 1267, 5, 10]}}, "fill": {"field": "s", "type": "nominal", "legend": null}, "shape": {"field": "s", "type": "nominal", "legend": null}}}
    ]
   }
  ]
 }
]
}
